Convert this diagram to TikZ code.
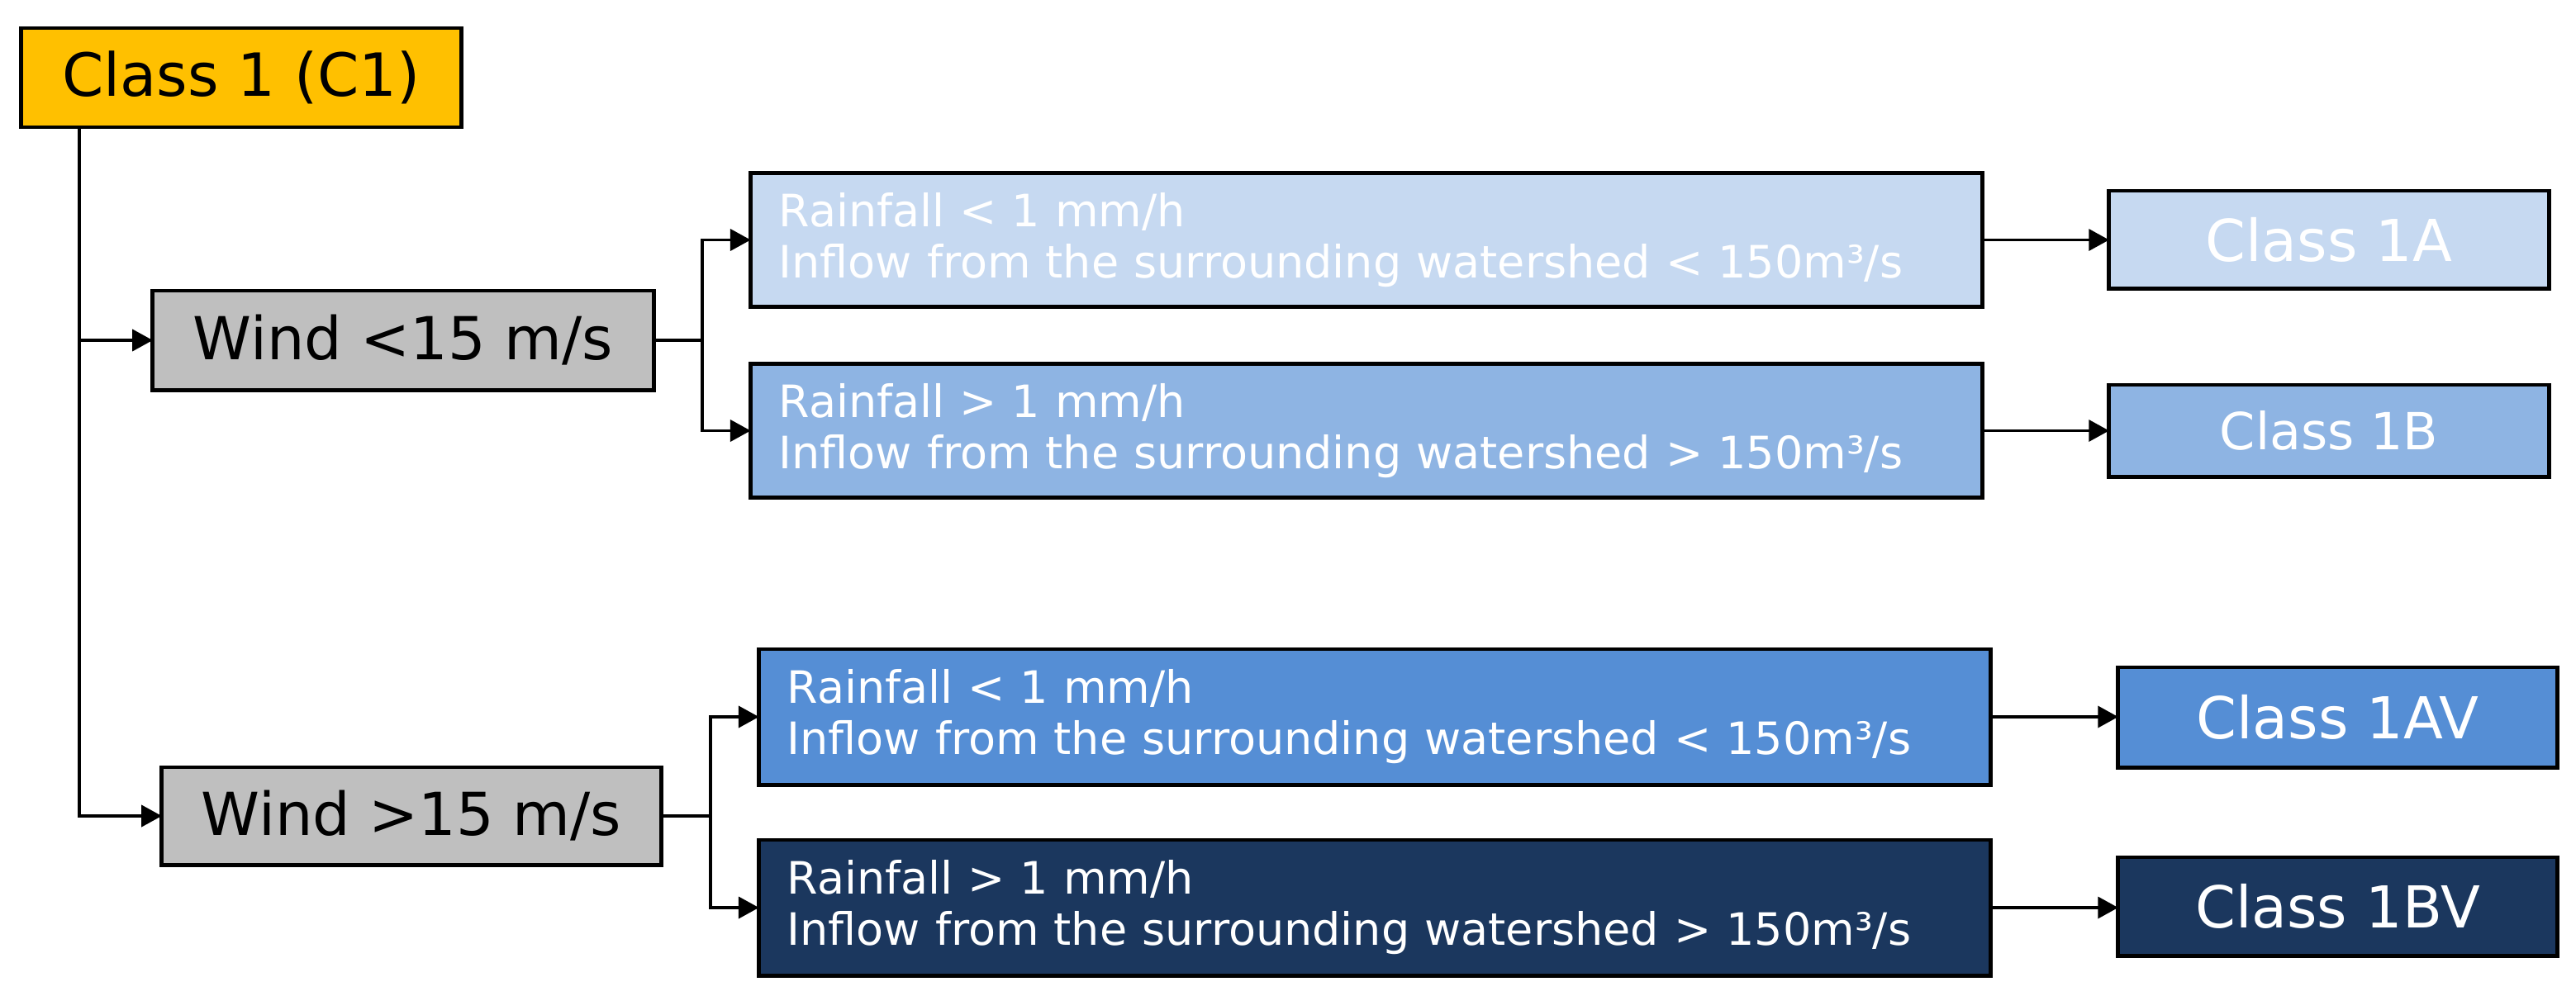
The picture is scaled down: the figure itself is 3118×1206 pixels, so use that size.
\documentclass[tikz,border=0pt]{standalone}
\usepackage{fontspec}
\setmainfont{DejaVu Sans}
\usetikzlibrary{arrows.meta}
\definecolor{cyellow}{HTML}{FFC000}
\definecolor{cgray}{HTML}{BFBFBF}
\definecolor{clight}{HTML}{C6D9F1}
\definecolor{cmid}{HTML}{8EB4E3}
\definecolor{cblue}{HTML}{558ED5}
\definecolor{cnavy}{HTML}{1B375E}
\tikzset{
  box/.style={draw=black, line width=1.4pt, rectangle, inner sep=0pt, outer sep=0pt},
  rainbox/.style={box, text=white, align=left, text width=14.22cm, inner xsep=0.34cm,
    minimum height=1.62cm, font=\fontsize{15.36}{17.64}\selectfont},
  classbox/.style={box, text=white, font=\fontsize{19.9}{22}\selectfont},
  windbox/.style={box, fill=cgray, text=black, font=\fontsize{20.4}{22}\selectfont},
  conn/.style={line width=1.05pt, draw=black},
  arr/.style={conn, -{Triangle[length=7pt,width=7.4pt]}}
}
\begin{document}
\begin{tikzpicture}[x=0.01cm, y=-0.01cm]
\useasboundingbox (0,0) rectangle (3118,1206);
% main nodes
\node[box, fill=cyellow, minimum width=5.32cm, minimum height=1.2cm,
  font=\fontsize{20.5}{22}\selectfont] (c1) at (292,94) {Class 1 (C1)};
\node[windbox, minimum width=6.06cm, minimum height=1.2cm] (w1) at (488,412) {Wind <15 m/s};
\node[windbox, minimum width=6.04cm, minimum height=1.18cm] (w2) at (498,988) {Wind >15 m/s};
% rain boxes
\node[rainbox, fill=clight] (r1) at (1654,290.5) {Rainfall < 1 mm/h\\Inflow from the surrounding watershed < 150m³/s};
\node[rainbox, fill=cmid] (r2) at (1654,521.5) {Rainfall > 1 mm/h\\Inflow from the surrounding watershed > 150m³/s};
\node[rainbox, fill=cblue, minimum height=1.64cm] (r3) at (1664,868) {Rainfall < 1 mm/h\\Inflow from the surrounding watershed < 150m³/s};
\node[rainbox, fill=cnavy, minimum height=1.64cm] (r4) at (1664,1099) {Rainfall > 1 mm/h\\Inflow from the surrounding watershed > 150m³/s};
% class boxes
\node[classbox, fill=clight, minimum width=5.32cm, minimum height=1.18cm] (ca) at (2819,290) {Class 1A};
\node[classbox, fill=cmid, minimum width=5.32cm, minimum height=1.11cm,
  font=\fontsize{17.6}{20}\selectfont] (cb) at (2819,521.5) {Class 1B};
\node[classbox, fill=cblue, minimum width=5.31cm, minimum height=1.21cm] (cav) at (2829.5,868.5) {Class 1AV};
\node[classbox, fill=cnavy, minimum width=5.31cm, minimum height=1.19cm] (cbv) at (2829.5,1097.5) {Class 1BV};
% helper coordinates
\coordinate (tk) at (96,0);
\coordinate (b1) at (850,0);
\coordinate (b2) at (860,0);
% trunk
\draw[arr] (tk |- c1.south) |- (w2.west);
\draw[arr] (tk |- w1.west) -- (w1.west);
% wind branches
\draw[conn] (w1.east) -- (b1 |- w1.east);
\draw[arr] (b1 |- w1.east) |- (r1.west);
\draw[arr] (b1 |- w1.east) |- (r2.west);
\draw[conn] (w2.east) -- (b2 |- w2.east);
\draw[arr] (b2 |- w2.east) |- (r3.west);
\draw[arr] (b2 |- w2.east) |- (r4.west);
% rain to class
\draw[arr] (r1.east) -- (r1.east -| ca.west);
\draw[arr] (r2.east) -- (r2.east -| cb.west);
\draw[arr] (r3.east) -- (r3.east -| cav.west);
\draw[arr] (r4.east) -- (r4.east -| cbv.west);
\end{tikzpicture}
\end{document}
